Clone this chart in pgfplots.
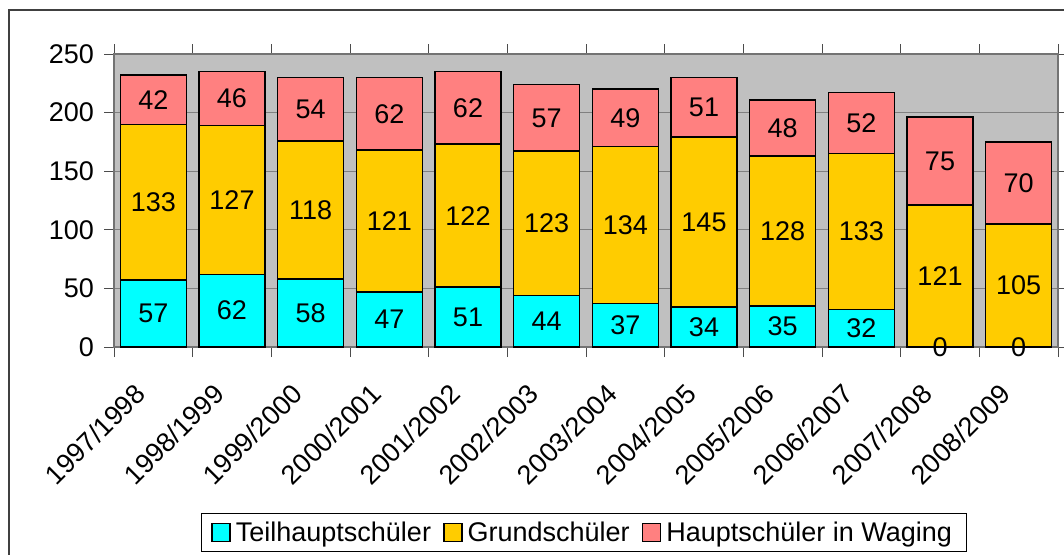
\documentclass[border=0pt]{standalone}
\usepackage{pgfplots}
\pgfplotsset{compat=1.18}
\usepackage{pgfplotstable}
\usepackage{fontspec}
\setmainfont{Liberation Sans}

\definecolor{teil}{HTML}{00FFFF}
\definecolor{grund}{HTML}{FFCC00}
\definecolor{haupt}{HTML}{FF8080}
\definecolor{plotbg}{HTML}{C0C0C0}

% x = category index, teil/grund/haupt = pupils per school year
\pgfplotstableread{
x teil grund haupt
0  57 133 42
1  62 127 46
2  58 118 54
3  47 121 62
4  51 122 62
5  44 123 57
6  37 134 49
7  34 145 51
8  35 128 48
9  32 133 52
10  0 121 75
11  0 105 70
}\schueler

\pgfplotsset{
    chartframe/.style={
        at={(114pt,-347pt)}, anchor=south west,
        scale only axis, width=944pt, height=293pt,
        xmin=-0.5, xmax=11.5, ymin=0, ymax=250,
        bar width=66pt,
    },
    % #1 = shift per unit, so that a label sits in the middle of its segment
    % (stacked bars already get their labels in the middle: 0pt there)
    midlabels/.style={
        point meta=explicit symbolic,
        nodes near coords,
        every node near coord/.append style={anchor=center, inner sep=0pt,
            font=\fontsize{27}{32}\selectfont, yshift=-\pgfplotspointmeta*#1},
    },
}

\begin{document}
\begin{tikzpicture}
\useasboundingbox (0pt,0pt) rectangle (1064pt,-554pt);
\draw[line width=1.3pt, black!75] (9pt,-570pt) -- (9pt,-10pt) -- (1080pt,-10pt);
\begin{axis}[
    chartframe,
    ybar stacked,
    ytick={0,50,...,250},
    xtick={0,...,11},
    xticklabels={1997/1998,1998/1999,1999/2000,2000/2001,2001/2002,2002/2003,2003/2004,2004/2005,2005/2006,2006/2007,2007/2008,2008/2009},
    minor xtick={-0.5,0.5,...,11.5},
    major x tick style={draw=none},
    tick align=outside,
    major tick length=10pt,
    minor tick length=10pt,
    tick style={black!70, line width=1pt},
    axis line style={black!55, line width=1.2pt},
    ymajorgrids=true,
    grid style={black!50, line width=1.2pt},
    axis background/.style={fill=plotbg},
    font=\fontsize{27}{32}\selectfont,
    /pgf/number format/assume math mode=true,
    yticklabel style={anchor=east, inner sep=0pt, xshift=-10pt},
    xticklabel style={inner sep=0pt, xshift=-13pt, yshift=-32pt, rotate=45, anchor=east},
    legend columns=3,
    legend style={at={(0.498,-0.633)}, anchor=center, draw=black, line width=1pt,
        fill=white, font=\fontsize{27}{32}\selectfont,
        inner xsep=10pt, inner ysep=5pt,
        nodes={inner xsep=5pt, inner ysep=3pt},
        /tikz/every even column/.append style={column sep=7pt}},
    legend image code/.code={\draw[#1, line width=1.6pt] (0pt,-9pt) rectangle (18pt,9pt);},
    every axis plot/.append style={draw=black, line width=1.6pt},
]
\addplot[fill=teil] table[x=x, y=teil] {\schueler};
\addplot[fill=grund, midlabels=0pt] table[x=x, y=grund, meta=grund] {\schueler};
\addplot[fill=haupt, midlabels=0pt] table[x=x, y=haupt, meta=haupt] {\schueler};
\legend{Teilhauptschüler, Grundschüler, Hauptschüler in Waging}
\end{axis}
% labels of the lowest series, drawn over all bars
\begin{axis}[
    chartframe,
    hide axis, clip=false,
    ybar,
]
\addplot[draw=none, fill=none, midlabels=0.586pt] table[x=x, y=teil, meta=teil] {\schueler};
\end{axis}
\end{tikzpicture}
\end{document}
